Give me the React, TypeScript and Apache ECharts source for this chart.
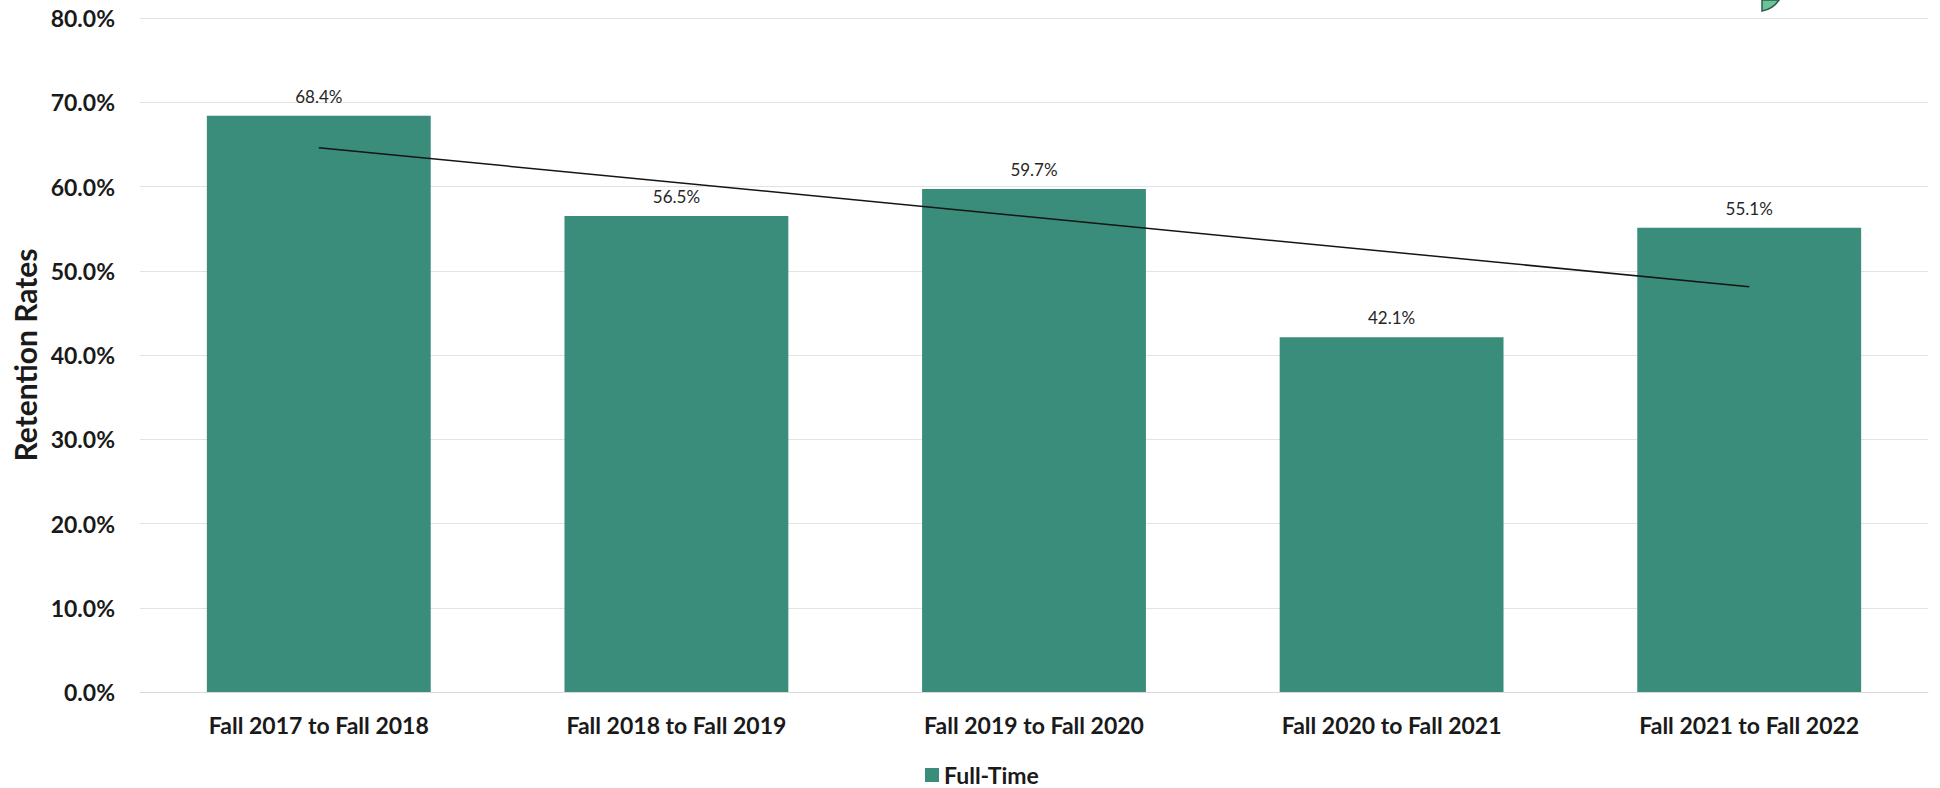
import React, { useEffect, useRef } from "react";
import * as echarts from "echarts";

const categories = [
  "Fall 2017 to Fall 2018",
  "Fall 2018 to Fall 2019",
  "Fall 2019 to Fall 2020",
  "Fall 2020 to Fall 2021",
  "Fall 2021 to Fall 2022",
];
const fullTime = [68.4, 56.5, 59.7, 42.1, 55.1];
// linear trendline endpoints
const trendValues: (number | null)[] = [64.6, null, null, null, 48.1];

const FONT = "Lato, 'Open Sans', sans-serif";

echarts.graphic.registerShape(
  "leaf",
  echarts.graphic.extendPath("M0 0 L0 11 Q11 9 17 0 Z", {})
);

export default function App() {
  const ref = useRef<HTMLDivElement>(null);
  useEffect(() => {
    if (!ref.current) return;
    const chart = echarts.init(ref.current, null, { renderer: "svg" });
    chart.setOption({
      animation: false,
      backgroundColor: "#ffffff",
      textStyle: { fontFamily: FONT },
      grid: {
        left: 140,
        right: 12,
        top: 18,
        bottom: 96,
        containLabel: false,
        outerBoundsMode: "none",
      },
      legend: {
        data: ["Full-Time"],
        top: 763,
        left: 925,
        padding: 0,
        icon: "rect",
        itemWidth: 14,
        itemHeight: 14,
        itemGap: 6,
        textStyle: {
          fontFamily: FONT,
          fontSize: 23,
          lineHeight: 24,
          fontWeight: "bold",
          color: "#1a1a1a",
        },
      },
      xAxis: {
        type: "category",
        data: categories,
        axisTick: { show: false },
        axisLine: { lineStyle: { color: "#d9d9d9", width: 1 } },
        axisLabel: {
          fontFamily: FONT,
          fontSize: 23,
          fontWeight: "bold",
          color: "#1a1a1a",
          margin: 21,
        },
      },
      yAxis: {
        type: "value",
        min: 0,
        max: 80,
        interval: 10,
        name: "Retention Rates",
        nameLocation: "middle",
        nameGap: 99,
        nameTextStyle: { fontFamily: FONT, fontSize: 30, fontWeight: "bold", color: "#1a1a1a" },
        axisLabel: {
          fontFamily: FONT,
          fontSize: 23,
          fontWeight: "bold",
          color: "#1a1a1a",
          margin: 25,
          formatter: (v: number) => v.toFixed(1) + "%",
        },
        splitLine: { lineStyle: { color: "#e3e3e3", width: 1 } },
      },
      series: [
        {
          name: "Full-Time",
          type: "bar",
          data: fullTime,
          barWidth: "62.6%",
          itemStyle: { color: "#3a8d7a" },
          label: {
            show: true,
            position: "top",
            distance: 11,
            fontFamily: FONT,
            fontSize: 17,
            color: "#262626",
            formatter: (p: any) => p.value.toFixed(1) + "%",
          },
        },
        {
          name: "Trend",
          type: "line",
          data: trendValues,
          connectNulls: true,
          symbol: "none",
          lineStyle: { color: "#151515", width: 1.5 },
          z: 5,
        },
      ],
      graphic: [
        {
          type: "leaf",
          x: 1762,
          y: 0,
          style: { fill: "#6cc39a", stroke: "#2f5d49", lineWidth: 1.5 },
        },
      ],
    });
    return () => chart.dispose();
  }, []);
  return (
    <div
      ref={ref}
      style={{ position: "fixed", left: 0, top: 0, width: 1940, height: 788 }}
    />
  );
}
